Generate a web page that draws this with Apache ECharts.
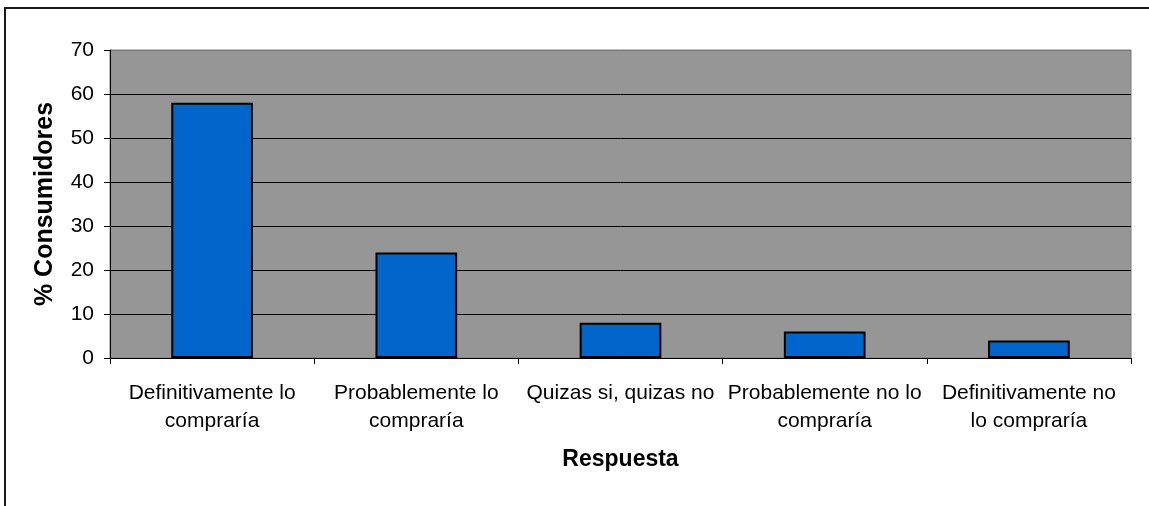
<!DOCTYPE html>
<html>
<head>
<meta charset="utf-8">
<script src="https://cdn.jsdelivr.net/npm/echarts@6/dist/echarts.min.js"></script>
<style>
  html, body { margin: 0; padding: 0; background: #ffffff; }
  #chart { width: 1149px; height: 506px; }
</style>
</head>
<body>
<div id="chart"></div>
<script>
// Purchase intention survey: share of consumers per answer
const categories = [
  'Definitivamente lo\ncompraría',
  'Probablemente lo\ncompraría',
  'Quizas si, quizas no',
  'Probablemente no lo\ncompraría',
  'Definitivamente no\nlo compraría'
];
const consumidores = [58, 24, 8, 6, 4];
const yTicks = { min: 0, max: 70, interval: 10 };

const FONT = '"Liberation Sans", Arial, sans-serif';

const chart = echarts.init(document.getElementById('chart'), null, { renderer: 'canvas' });

chart.setOption({
  animation: false,
  backgroundColor: '#ffffff',
  graphic: [{
    type: 'rect',
    z: -1,
    silent: true,
    shape: { x: 5, y: 8, width: 2000, height: 2000 },
    style: { fill: 'none', stroke: '#1a1a1a', lineWidth: 2 }
  }],
  grid: {
    left: 110,
    right: 18,
    top: 50,
    bottom: 148,
    show: true,
    backgroundColor: '#969696',
    borderColor: '#7a7a7a',
    borderWidth: 1
  },
  xAxis: {
    type: 'category',
    data: categories,
    name: 'Respuesta',
    nameLocation: 'middle',
    nameGap: 90,
    nameTextStyle: { fontFamily: FONT, fontSize: 23, fontWeight: 'bold', color: '#000' },
    axisLine: { lineStyle: { color: '#000', width: 1 } },
    axisTick: { show: true, length: 6, lineStyle: { color: '#000' } },
    axisLabel: {
      interval: 0,
      margin: 21,
      fontFamily: FONT,
      fontSize: 21,
      lineHeight: 28,
      color: '#000',
      align: 'center'
    },
    splitLine: { show: false }
  },
  yAxis: {
    type: 'value',
    min: yTicks.min,
    max: yTicks.max,
    interval: yTicks.interval,
    name: '% Consumidores',
    nameLocation: 'middle',
    nameGap: 52,
    nameTextStyle: { fontFamily: FONT, fontSize: 25, fontWeight: 'bold', color: '#000' },
    axisLine: { show: true, lineStyle: { color: '#000', width: 1 } },
    axisTick: { show: true, length: 6, lineStyle: { color: '#000' } },
    axisLabel: { margin: 16, fontFamily: FONT, fontSize: 21, color: '#000' },
    splitLine: {
      show: true,
      lineStyle: {
        color: ['#000', '#000', '#000', '#000', '#000', '#000', '#000', '#7a7a7a'],
        width: 1
      }
    }
  },
  series: [{
    type: 'bar',
    data: consumidores,
    barWidth: '40%',
    itemStyle: { color: '#0066cc', borderColor: '#000', borderWidth: 2 }
  }]
});
</script>
</body>
</html>
